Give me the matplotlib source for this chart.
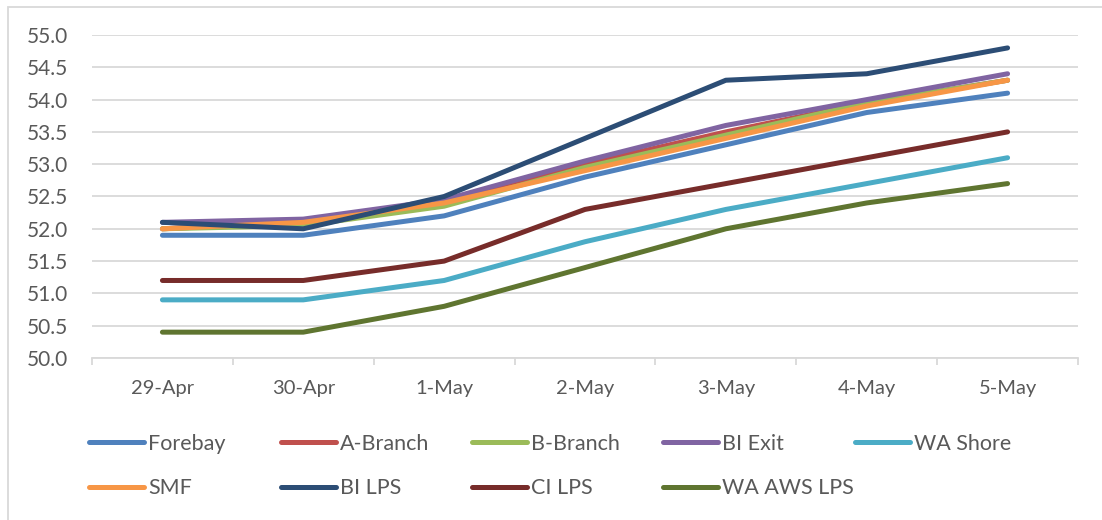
import numpy as np
import matplotlib
matplotlib.use('Agg')
import matplotlib.pyplot as plt
from matplotlib.patches import Rectangle

plt.rcParams['font.family'] = ['Lato', 'DejaVu Sans']

dates = ['29-Apr', '30-Apr', '1-May', '2-May', '3-May', '4-May', '5-May']

forebay   = [51.9, 51.9, 52.2, 52.8, 53.3, 53.8, 54.1]
a_branch  = [52.0, 52.1, 52.4, 53.0, 53.5, 53.95, 54.3]
b_branch  = [52.0, 52.05, 52.35, 52.95, 53.45, 53.95, 54.3]
bi_exit   = [52.1, 52.15, 52.45, 53.05, 53.6, 54.0, 54.4]
wa_shore  = [50.9, 50.9, 51.2, 51.8, 52.3, 52.7, 53.1]
smf       = [52.0, 52.1, 52.4, 52.9, 53.4, 53.9, 54.3]
bi_lps    = [52.1, 52.0, 52.5, 53.4, 54.3, 54.4, 54.8]
ci_lps    = [51.2, 51.2, 51.5, 52.3, 52.7, 53.1, 53.5]
wa_aws    = [50.4, 50.4, 50.8, 51.4, 52.0, 52.4, 52.7]

names = ['Forebay', 'A-Branch', 'B-Branch', 'BI Exit', 'WA Shore',
         'SMF', 'BI LPS', 'CI LPS', 'WA AWS LPS']
series = [forebay, a_branch, b_branch, bi_exit, wa_shore,
          smf, bi_lps, ci_lps, wa_aws]
colors = ['#4f81bd', '#c0504d', '#9bbb59', '#8064a2', '#4bacc6',
          '#f79646', '#2c4d75', '#772c2a', '#5f7530']

fig = plt.figure(figsize=(11.02, 5.2), dpi=100)
ax = fig.add_axes([92/1102, 1-358/520, (1078-92)/1102, (358-35)/520])

x = np.arange(len(dates))
lines = []
for vals, nm, c in zip(series, names, colors):
    ln, = ax.plot(x, vals, color=c, lw=3.6, label=nm, solid_capstyle='round',
                  solid_joinstyle='round')
    lines.append(ln)

ax.set_xlim(-0.5, 6.5)
ax.set_ylim(50, 55)
ax.set_yticks(np.arange(50, 55.01, 0.5))
ax.set_yticklabels(['%.1f' % v for v in np.arange(50, 55.01, 0.5)])
ax.set_xticks(x)
ax.set_xticklabels(dates)
ax.set_xticks(np.arange(-0.5, 7, 1), minor=True)
ax.grid(axis='y', color='#d9d9d9', lw=1.3)
ax.set_axisbelow(True)
for s in ['top', 'right', 'left']:
    ax.spines[s].set_visible(False)
ax.spines['bottom'].set_color('#d9d9d9')
ax.spines['bottom'].set_linewidth(1.3)
ax.tick_params(axis='y', length=0, pad=17, labelsize=15, labelcolor='#595959')
ax.tick_params(axis='x', which='major', length=0, pad=16, labelsize=14.5, labelcolor='#595959')
ax.tick_params(axis='x', which='minor', length=5, width=1.3, color='#d9d9d9')

# legend: one small legend per column so columns are evenly spaced
col_x = [89, 281, 472, 663, 855]
for c in range(5):
    idx = [i for i in (c, c + 5) if i < len(lines)]
    leg = fig.legend([lines[i] for i in idx], [names[i] for i in idx],
                     loc='upper left', bbox_to_anchor=(col_x[c]/1102, 1-434/520),
                     frameon=False, fontsize=15.5, handlelength=2.55,
                     handletextpad=0.2, labelspacing=1.12, borderaxespad=0,
                     borderpad=0)
    for t in leg.get_texts():
        t.set_color('#595959')

fig.patches.append(Rectangle((8/1102, -0.1), 1.2, 1 - 7/520 + 0.1,
                             transform=fig.transFigure, fill=False,
                             edgecolor='#d9d9d9', lw=1.3))

fig.savefig('out.png', dpi=100)
